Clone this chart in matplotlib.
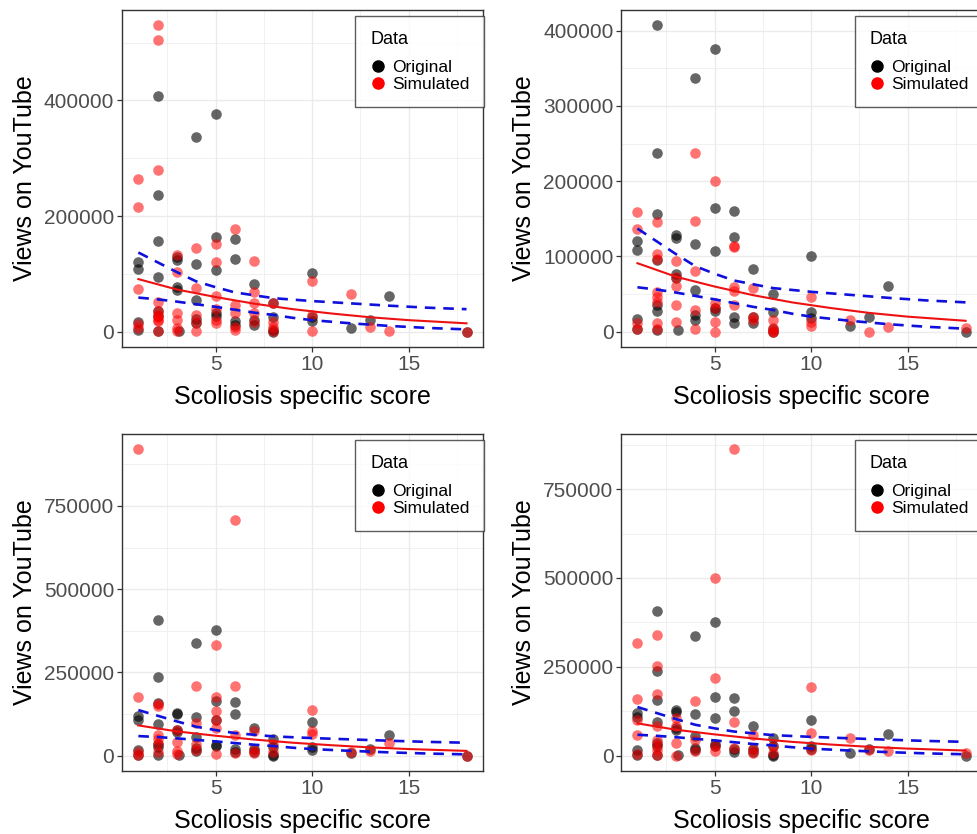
import matplotlib.pyplot as plt
from matplotlib.lines import Line2D
from matplotlib.ticker import FixedLocator, FuncFormatter

plt.rcParams['font.family'] = ['Liberation Sans', 'DejaVu Sans']

# observed videos: score vs. views (same in every panel)
orig_x = [1, 1, 1, 1,
          2, 2, 2, 2, 2, 2, 2,
          3, 3, 3, 3, 3.1,
          4, 4, 4, 4, 4,
          5, 5, 5, 5, 5,
          6, 6, 6, 6,
          7, 7, 7,
          8, 8, 8, 8,
          10, 10, 10,
          12, 13, 14, 18]
orig_y = [120000, 108000, 17000, 3000,
          407000, 237000, 157000, 95000, 35000, 27000, 2000,
          129000, 124000, 77000, 72000, 2000,
          337000, 117000, 55000, 22000, 15000,
          376000, 164000, 107000, 32000, 28000,
          161000, 126000, 19000, 11000,
          83000, 20000, 11000,
          50000, 26000, 3000, 0,
          101000, 26000, 18000,
          7000, 20000, 61000, 0]

# four simulated draws
sim1_x = [2, 2, 2, 1, 1, 6, 5, 4, 3, 7, 5, 3, 10, 1, 4, 7, 5, 12, 2, 8, 7, 6,
          6, 5, 3, 2, 4, 2, 2, 3, 5, 1, 4, 6, 8, 8, 10, 13, 14, 18, 2, 3, 4,
          6, 8, 7, 5, 2, 3, 10, 7, 1, 2]
sim1_y = [530000, 504000, 279000, 265000, 215000, 178000, 152000, 144000,
          133000, 123000, 121000, 104000, 88000, 74000, 76000, 69000, 61000,
          65000, 51000, 49000, 50000, 46000, 32000, 40000, 32000, 29000,
          29000, 20000, 35000, 20000, 20000, 14000, 17000, 9000, 17000,
          2000, 1000, 9000, 1000, 0, 2000, 2000, 1000, 3000, 8000, 32000,
          15000, 18000, 6000, 29000, 17000, 6000, 26000]

sim2_x = [4, 5, 1, 4, 2, 1, 6, 6, 2, 2, 3, 4, 3, 3, 6, 6, 7, 2, 2, 2, 10, 5,
          3, 6, 4, 5, 7, 7, 8, 8, 8, 10, 10, 12, 13, 14, 18, 1, 1, 2, 2, 3,
          4, 5, 5, 8]
sim2_y = [238000, 200000, 159000, 147000, 146000, 137000, 114000, 112000,
          103000, 96000, 94000, 81000, 73000, 61000, 60000, 54000, 58000,
          53000, 46000, 40000, 46000, 38000, 35000, 35000, 29000, 31000,
          20000, 15000, 15000, 5000, 0, 7000, 13000, 15000, 0, 6600, 5000,
          11000, 4000, 11000, 4000, 13000, 4000, 13000, 0, 1000]

sim3_x = [1, 6, 5, 4, 6, 1, 5, 2, 2, 5, 10, 5, 4, 3, 5, 7, 10, 10, 6, 2, 14,
          2, 2, 3, 3, 4, 4, 6, 7, 8, 8, 1, 2, 12, 13, 18, 5, 1, 3, 7]
sim3_y = [920000, 708000, 333000, 210000, 208000, 176000, 176000, 156000,
          150000, 133000, 138000, 108000, 98000, 78000, 83000, 73000, 73000,
          65000, 63000, 63000, 38000, 50000, 35000, 41000, 15000, 35000,
          18000, 9000, 18000, 35000, 10000, 10000, 10000, 10000, 14000, 0,
          5000, 3000, 5000, 8000]

sim4_x = [6, 5, 1, 2, 2, 5, 10, 1, 2, 4, 6, 1, 3, 3, 1, 2, 7, 10, 12, 3, 2,
          2, 2, 4, 4, 5, 5, 6, 7, 8, 8, 10, 13, 14, 18, 3, 1, 2, 7]
sim4_y = [862000, 500000, 318000, 340000, 253000, 218000, 192000, 159000,
          173000, 155000, 96000, 100000, 106000, 83000, 59000, 83000, 59000,
          65000, 51000, 35000, 45000, 30000, 15000, 45000, 12000, 26000,
          12000, 21000, 7000, 26000, 7000, 17000, 17000, 12000, 7000, 0,
          5000, 3000, 20000]

# fitted trend and interval bounds, fitted on the observed data
fit_x = [1, 3, 5, 7, 9, 11, 13, 15, 18]
fit_y = [91000, 73000, 60000, 48500, 39000, 31500, 25000, 20000, 14500]
upper_x = [1, 3, 4, 5, 6, 7, 8, 10, 12, 14, 16, 18]
upper_y = [137000, 103000, 87000, 77000, 68000, 63000, 58000, 53000, 49000,
           45000, 41500, 39000]
lower_x = [1, 2, 3, 5, 7, 8, 9, 10, 12, 14, 16, 18]
lower_y = [59000, 56000, 52000, 43000, 33000, 29000, 24000, 20000, 14500,
           10000, 6500, 4000]

panels = [
    (sim1_x, sim1_y, [0, 200000, 400000], 200000),
    (sim2_x, sim2_y, [0, 100000, 200000, 300000, 400000], 100000),
    (sim3_x, sim3_y, [0, 250000, 500000, 750000], 250000),
    (sim4_x, sim4_y, [0, 250000, 500000, 750000], 250000),
]
positions = [
    [0.1247, 0.5839, 0.3691, 0.4041],
    [0.6350, 0.5839, 0.3691, 0.4041],
    [0.1247, 0.0755, 0.3691, 0.4041],
    [0.6350, 0.0755, 0.3691, 0.4041],
]

fig = plt.figure(figsize=(9.78, 8.34), dpi=100)

for (sx, sy, yticks, ystep), pos in zip(panels, positions):
    ax = fig.add_axes(pos)
    ax.scatter(orig_x, orig_y, s=58, color='black', alpha=0.6, linewidths=0, zorder=3)
    ax.scatter(sx, sy, s=58, color='red', alpha=0.55, linewidths=0, zorder=3)
    ax.plot(fit_x, fit_y, color='#EE1111', lw=1.5, zorder=4)
    ax.plot(upper_x, upper_y, color='#1010DD', lw=1.9, ls=(0, (4, 3)), zorder=4)
    ax.plot(lower_x, lower_y, color='#1010DD', lw=1.9, ls=(0, (4, 3)), zorder=4)

    # ggplot-style expansion of 5% on both axes
    ymax = max(max(orig_y), max(sy))
    ax.set_xlim(1 - 0.85, 18 + 0.85)
    ax.set_ylim(-0.05 * ymax, ymax * 1.05)

    ax.xaxis.set_major_locator(FixedLocator([5, 10, 15]))
    ax.xaxis.set_minor_locator(FixedLocator([2.5, 7.5, 12.5, 17.5]))
    ax.yaxis.set_major_locator(FixedLocator(yticks))
    minors = [t + ystep / 2 for t in yticks]
    ax.yaxis.set_minor_locator(FixedLocator(minors))
    ax.yaxis.set_major_formatter(FuncFormatter(lambda v, p: '%d' % v))

    ax.grid(which='major', color='#EBEBEB', lw=1.0, zorder=0)
    ax.grid(which='minor', color='#EBEBEB', lw=0.5, zorder=0)
    ax.set_axisbelow(True)
    for sp in ax.spines.values():
        sp.set_color('#333333')
        sp.set_linewidth(1.0)
    ax.tick_params(which='major', length=3.5, width=0.9, color='#333333',
                   labelsize=15, labelcolor='#4D4D4D', pad=2)
    ax.tick_params(which='minor', length=0)

    ax.set_xlabel('Scoliosis specific score', fontsize=18, labelpad=8)
    ax.set_ylabel('Views on YouTube', fontsize=18, labelpad=5)

    handles = [
        Line2D([], [], marker='o', ls='', color='black', markersize=8, label='Original'),
        Line2D([], [], marker='o', ls='', color='red', markersize=8, label='Simulated'),
    ]
    leg = ax.legend(handles=handles, title='Data', loc='upper right',
                    bbox_to_anchor=(1.003, 0.982), fontsize=12.5, title_fontsize=13,
                    frameon=True, fancybox=False, edgecolor='#333333',
                    handletextpad=0.35, handlelength=0.9, labelspacing=0.1,
                    borderpad=0.85, borderaxespad=0)
    leg._legend_box.align = 'left'
    leg._legend_box.sep = 9
    leg.get_frame().set_linewidth(1.0)
    leg.set_zorder(10)

fig.savefig('out.png', dpi=100)
